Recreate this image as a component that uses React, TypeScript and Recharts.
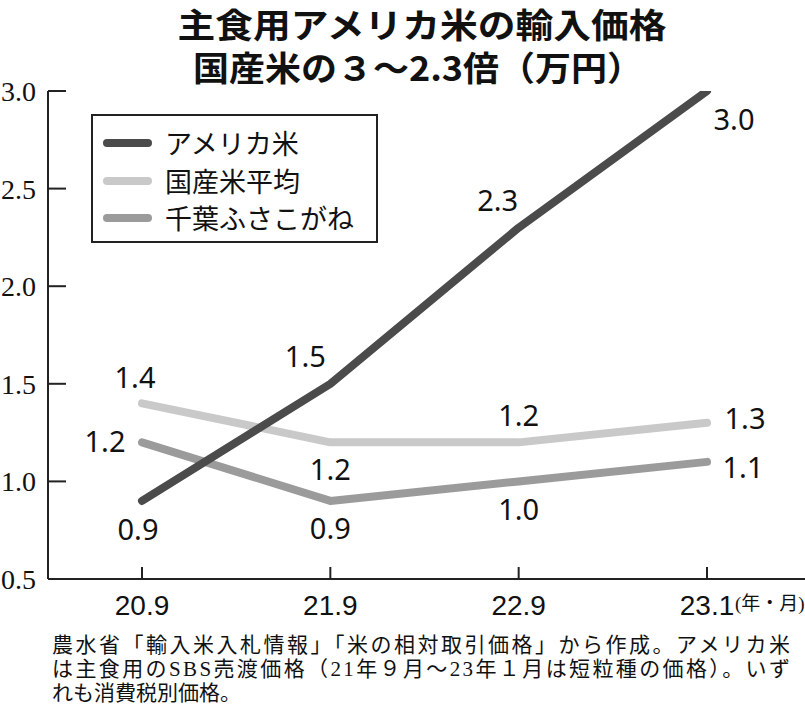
import React from 'react';
import { LineChart, Line, XAxis, YAxis, Legend } from 'recharts';

const categories = ['20.9', '21.9', '22.9', '23.1'];
const americaRice = [0.9, 1.5, 2.3, 3.0];
const domesticAvg = [1.4, 1.2, 1.2, 1.3];
const chibaFusakogane = [1.2, 0.9, 1.0, 1.1];
const yTicks = [0.5, 1.0, 1.5, 2.0, 2.5, 3.0];

const seriesNames: Record<string, string> = {
  america: 'アメリカ米',
  domestic: '国産米平均',
  chiba: '千葉ふさこがね',
};
const seriesColors: Record<string, string> = {
  america: '#4b4b4b',
  domestic: '#c9c9c9',
  chiba: '#9b9b9b',
};
const legendOrder = ['america', 'domestic', 'chiba'];

const titleLines = ['主食用アメリカ米の輸入価格', '国産米の３～2.3倍（万円）'];
const footnoteLines = [
  '農水省「輸入米入札情報」「米の相対取引価格」から作成。アメリカ米',
  'は主食用のSBS売渡価格（21年９月～23年１月は短粒種の価格）。いず',
  'れも消費税別価格。',
];
const xUnit = '(年・月)';

const data = categories.map((c, i) => ({
  month: c,
  america: americaRice[i],
  domestic: domesticAvg[i],
  chiba: chibaFusakogane[i],
}));

const labelOffsets: Record<string, number[][]> = {
  america: [[-4, 28], [-25, -28], [-21, -28], [27, 27]],
  domestic: [[-7, -27], [0, 26], [0, -28], [38, -5]],
  chiba: [[-37, -2], [0, 27], [0, 27], [36, 5]],
};

const titleLayout = [
  { x: 422, y: 23, len: 489 },
  { x: 418, y: 66, len: 450 },
];

const makeLabel = (key: string) => (props: any) => {
  const { x, y, value, index } = props;
  const off = labelOffsets[key][index] || [0, 0];
  return (
    <text
      key={`${key}-${index}`}
      x={x + off[0]}
      y={y + off[1]}
      textAnchor="middle"
      dominantBaseline="central"
      fontFamily="'Noto Sans', sans-serif"
      fontSize={29}
      fill="#111"
    >
      {Number(value).toFixed(1)}
    </text>
  );
};

const renderLegend = (props: any) => {
  const payload: any[] = props.payload || [];
  const items = legendOrder
    .map((k) => payload.find((p) => p.dataKey === k))
    .filter(Boolean);
  return (
    <div
      style={{
        position: 'relative',
        width: 287,
        height: 129,
        border: '2px solid #222',
        boxSizing: 'border-box',
        background: '#fff',
      }}
    >
      {items.map((p: any, i: number) => (
        <div
          key={p.dataKey}
          style={{
            position: 'absolute',
            left: 10,
            top: 27 + i * 37.5 - 20,
            height: 40,
            display: 'flex',
            alignItems: 'center',
          }}
        >
          <span
            style={{
              display: 'inline-block',
              width: 49,
              height: 8,
              borderRadius: 4,
              background: p.color,
              marginRight: 13,
            }}
          />
          <span
            style={{
              fontFamily: "'Noto Sans CJK JP', sans-serif",
              fontSize: 27,
              color: '#111',
              lineHeight: '40px',
              whiteSpace: 'nowrap',
            }}
          >
            {p.value}
          </span>
        </div>
      ))}
    </div>
  );
};

export default function App() {
  return (
    <div style={{ position: 'absolute', left: 0, top: 0, width: 805, height: 715, background: '#fff' }}>
      <LineChart
        width={805}
        height={715}
        data={data}
        margin={{ top: 91, right: 0, bottom: 86, left: 0 }}
      >
        <XAxis
          dataKey="month"
          height={50}
          padding={{ left: 94, right: 98 }}
          axisLine={{ stroke: '#222', strokeWidth: 2 }}
          tickLine={{ stroke: '#222', strokeWidth: 2 }}
          tickSize={-12}
          tickMargin={28}
          tick={{ fill: '#111', fontSize: 28, fontFamily: "'Liberation Sans', Arial, sans-serif" }}
          interval={0}
        />
        <YAxis
          width={48}
          domain={[0.5, 3.0]}
          ticks={yTicks}
          type="number"
          allowDataOverflow
          axisLine={{ stroke: '#222', strokeWidth: 2 }}
          tickLine={{ stroke: '#222', strokeWidth: 2 }}
          tickSize={-18}
          tickMargin={30}
          tickFormatter={(v: number) => v.toFixed(1)}
          tick={{ fill: '#111', fontSize: 28, fontFamily: "'Liberation Serif', serif" }}
        />
        <Legend
          layout="horizontal"
          verticalAlign="middle"
          align="center"
          content={renderLegend}
          wrapperStyle={{ position: 'absolute', left: 91, top: 114, width: 287, height: 129 }}
        />
        <Line
          dataKey="domestic"
          name={seriesNames.domestic}
          stroke={seriesColors.domestic}
          strokeWidth={8}
          strokeLinecap="round"
          strokeLinejoin="round"
          dot={false}
          activeDot={false}
          isAnimationActive={false}
          label={makeLabel('domestic')}
        />
        <Line
          dataKey="chiba"
          name={seriesNames.chiba}
          stroke={seriesColors.chiba}
          strokeWidth={8}
          strokeLinecap="round"
          strokeLinejoin="round"
          dot={false}
          activeDot={false}
          isAnimationActive={false}
          label={makeLabel('chiba')}
        />
        <Line
          dataKey="america"
          name={seriesNames.america}
          stroke={seriesColors.america}
          strokeWidth={8}
          strokeLinecap="round"
          strokeLinejoin="round"
          dot={false}
          activeDot={false}
          isAnimationActive={false}
          label={makeLabel('america')}
        />
      </LineChart>
      <svg
        width={805}
        height={715}
        style={{ position: 'absolute', left: 0, top: 0, pointerEvents: 'none' }}
      >
        {titleLines.map((t, i) => (
          <text
            key={t}
            x={titleLayout[i].x}
            y={titleLayout[i].y}
            textAnchor="middle"
            dominantBaseline="central"
            fontFamily="'Noto Sans CJK JP', sans-serif"
            fontWeight={700}
            fontSize={34}
            fill="#111"
            textLength={titleLayout[i].len}
            lengthAdjust="spacingAndGlyphs"
          >
            {t}
          </text>
        ))}
        <text
          x={735}
          y={603}
          dominantBaseline="central"
          fontFamily="'Liberation Serif', 'Noto Sans CJK JP', serif"
          fontSize={19}
          fill="#111"
        >
          {xUnit}
        </text>
        {footnoteLines.map((t, i) => (
          <text
            key={t}
            x={52}
            y={645 + i * 24}
            dominantBaseline="central"
            fontFamily="'Liberation Serif', 'Noto Sans CJK JP', serif"
            fontSize={21}
            fill="#111"
            textLength={i < 2 ? 738 : undefined}
            lengthAdjust={i < 2 ? 'spacing' : undefined}
          >
            {t}
          </text>
        ))}
      </svg>
    </div>
  );
}
